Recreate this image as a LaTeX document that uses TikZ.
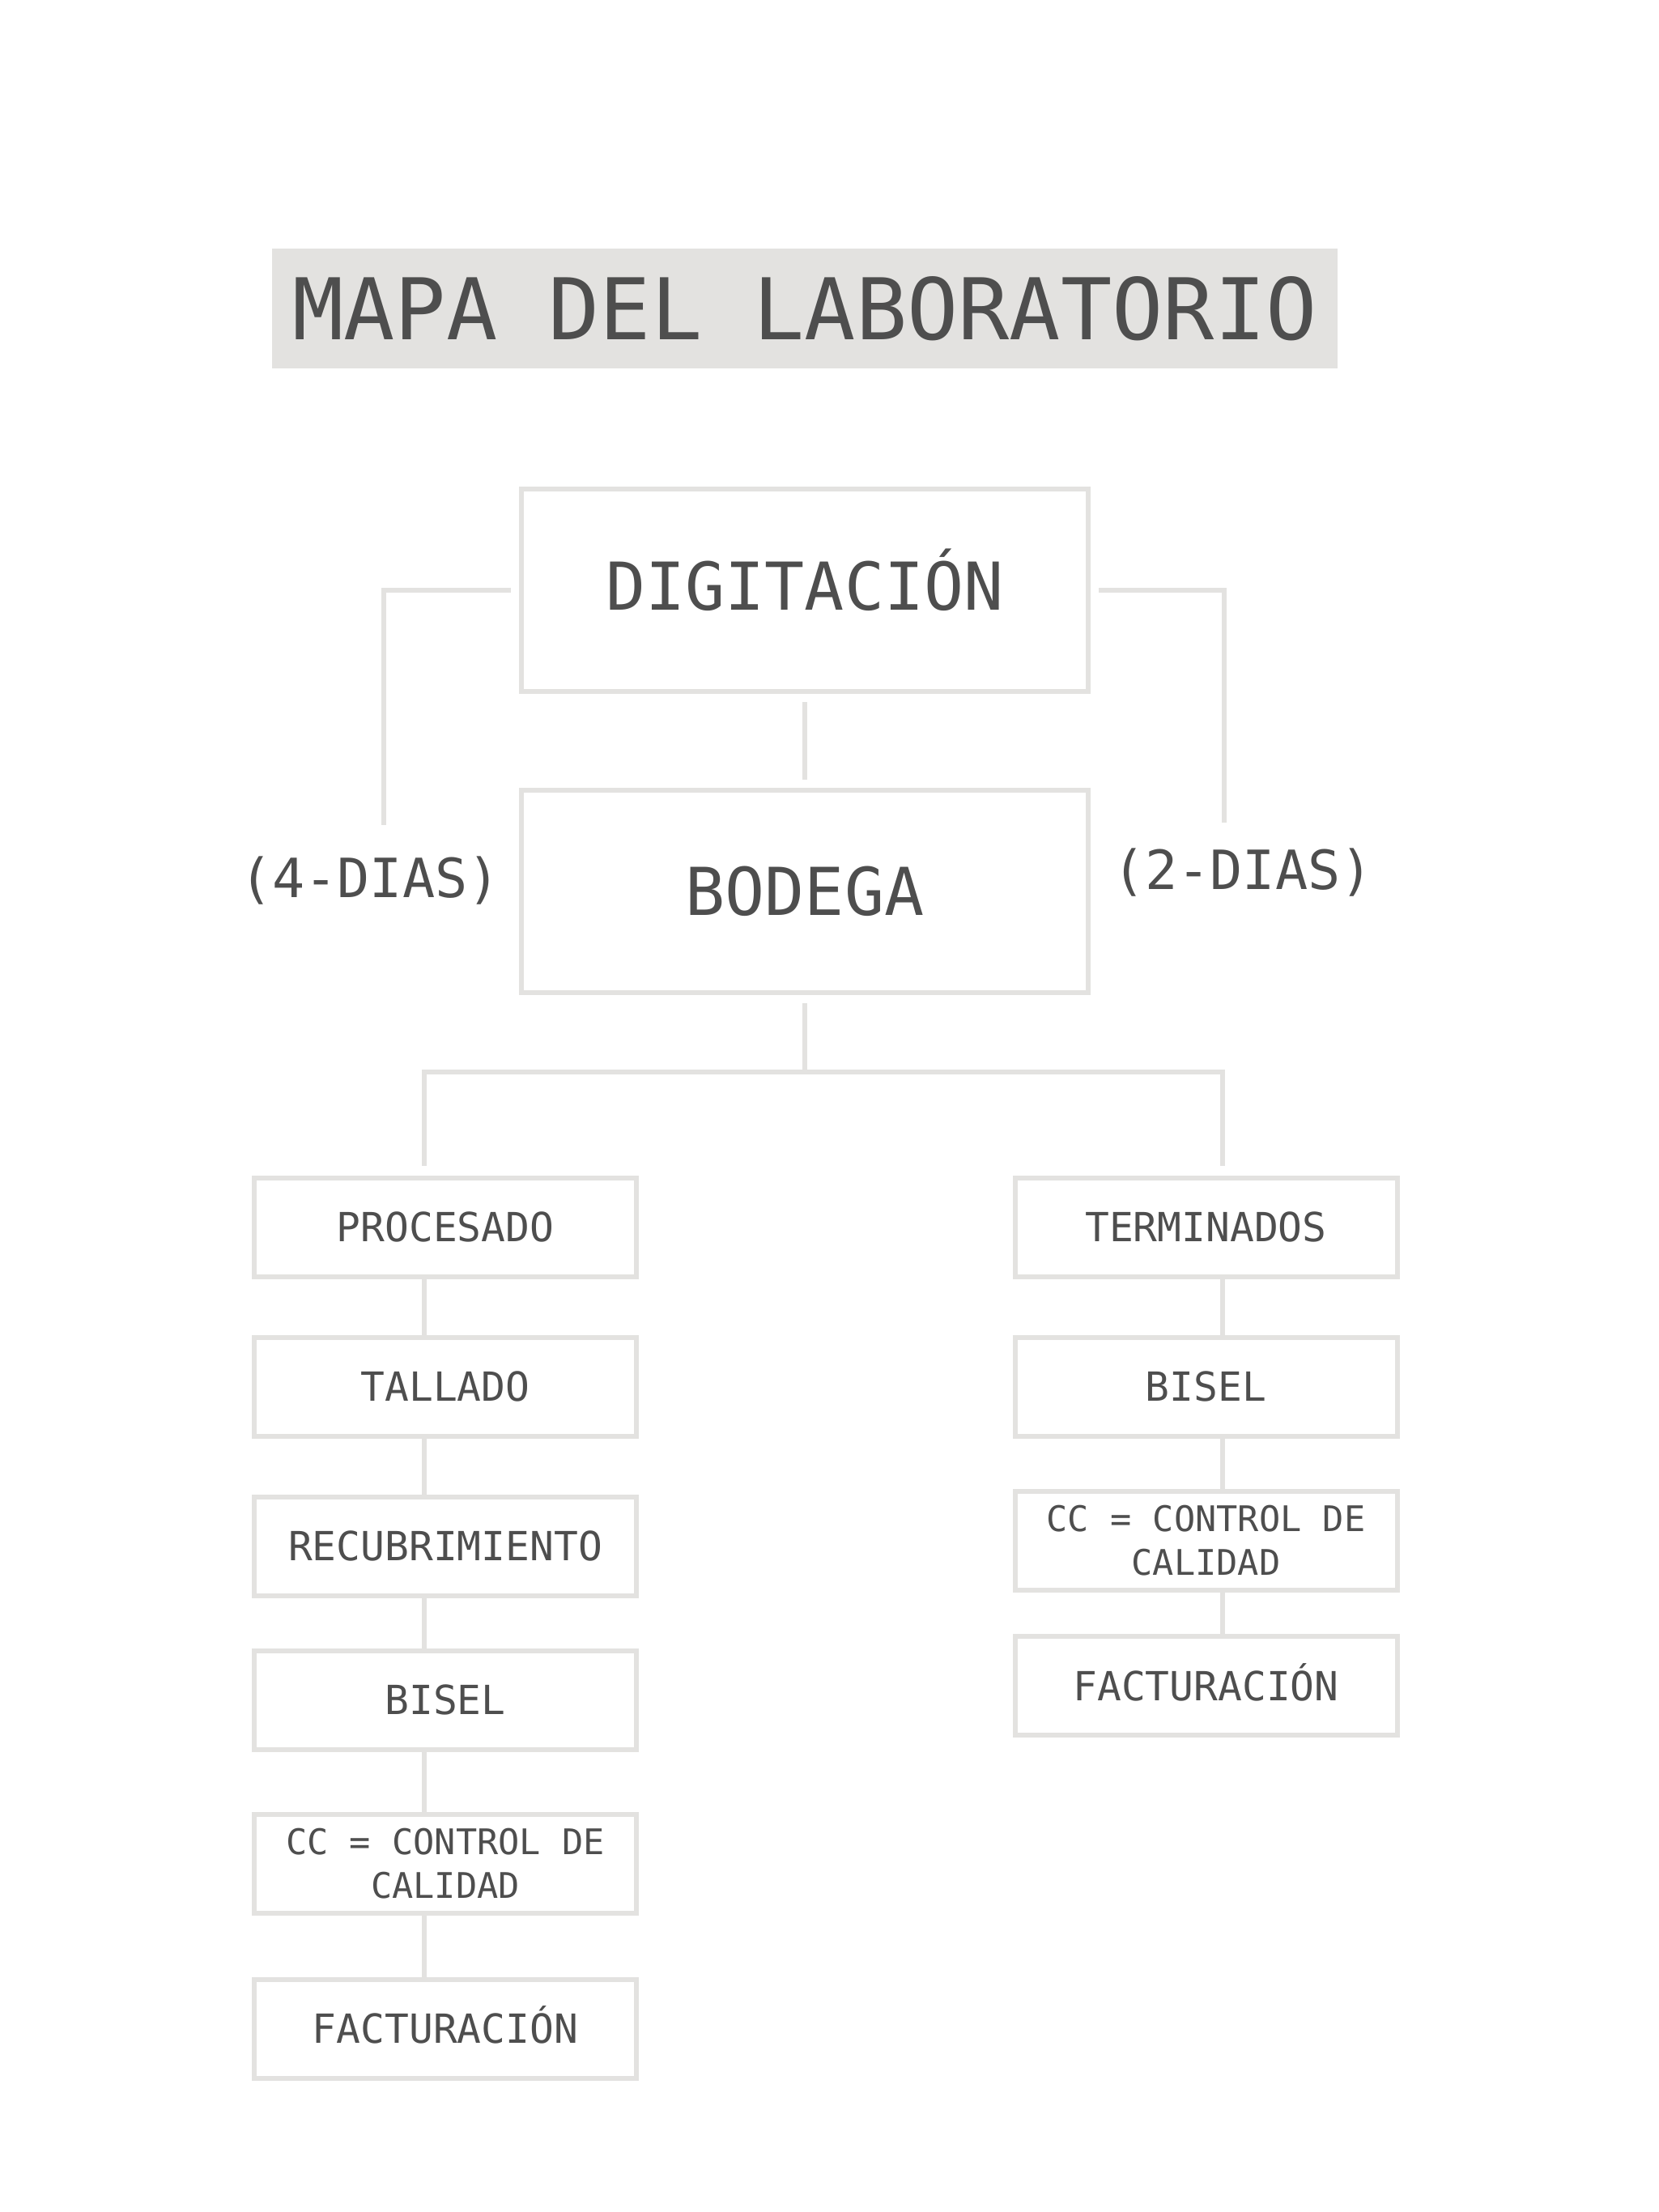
\documentclass[tikz,border=0pt]{standalone}
\usepackage{fontspec}
\setmonofont{DejaVu Sans Mono}
\usepackage{xcolor}
\usetikzlibrary{positioning}
\definecolor{boxgray}{RGB}{227,226,224}
\definecolor{inkgray}{RGB}{78,78,78}

\tikzset{
  frame/.style={draw=boxgray, line width=0.06cm, text=inkgray},
  bigbox/.style={frame, minimum width=7.0cm, minimum height=2.5cm, text height=16.9pt, text depth=0pt, font=\ttfamily\fontsize{23.2}{28}\selectfont},
  stagebox/.style={frame, minimum width=4.72cm, minimum height=1.22cm, text height=10.3pt, text depth=0pt, font=\ttfamily\fontsize{14.1}{17}\selectfont},
  twoline/.style={frame, minimum width=4.72cm, minimum height=1.22cm, align=center, font=\ttfamily\fontsize{12.4}{15.4}\selectfont},
  daynote/.style={text=inkgray, text height=13.9pt, text depth=0pt, font=\ttfamily\fontsize{19}{23}\selectfont},
  link/.style={draw=boxgray, line width=0.06cm}
}

\begin{document}
\begin{tikzpicture}[node distance=1.97cm,on grid]
        \useasboundingbox (0,0) rectangle (20.48,-27.32);
        \node[fill=boxgray, minimum width=13.16cm, minimum height=1.48cm, text=inkgray, text height=21.8pt, text depth=0pt, font=\ttfamily\fontsize{29.9}{36}\selectfont] (title) at (9.94,-3.81) {MAPA DEL LABORATORIO};
        \node[bigbox] (dig) [below=3.48cm of title, text depth=0.1cm] {DIGITACIÓN};
        \node[bigbox] (bod) [below=3.72cm of dig] {BODEGA};
        \node[daynote] (dias4) [left=5.37cm of bod, yshift=0.17cm] {(4-DIAS)};
        \node[daynote] (dias2) [right=5.41cm of bod, yshift=0.27cm] {(2-DIAS)};
        % left column
        \node[stagebox] (proc) [below left=4.145cm and 4.44cm of bod] {PROCESADO};
        \node[stagebox] (tall) [below=of proc] {TALLADO};
        \node[stagebox] (recub) [below=of tall] {RECUBRIMIENTO};
        \node[stagebox] (bisl) [below=1.90cm of recub] {BISEL};
        \node[twoline] (ccl) [below=2.02cm of bisl] {CC = CONTROL DE\\CALIDAD};
        \node[stagebox] (factl) [below=2.04cm of ccl] {FACTURACIÓN};
        % right column
        \node[stagebox] (term) [below right=4.145cm and 4.955cm of bod] {TERMINADOS};
        \node[stagebox] (bisr) [below=of term] {BISEL};
        \node[twoline] (ccr) [below=1.90cm of bisr] {CC = CONTROL DE\\CALIDAD};
        \node[stagebox] (factr) [below=1.795cm of ccr] {FACTURACIÓN};
        % free ends
        \coordinate (lbend) at ([xshift=0.17cm, yshift=0.65cm]dias4.center);
        \coordinate (rbend) at ([xshift=-0.23cm, yshift=0.58cm]dias2.center);
        \coordinate (split) at ([yshift=-0.95cm]bod.south);
        \coordinate (ltop) at ([xshift=-0.26cm]proc.north);
        \coordinate (rtop) at ([xshift=0.205cm]term.north);
        \draw[link, shorten <=0.1cm, shorten >=0.1cm] (dig) to (bod);
        \draw[link, shorten <=0.1cm] (dig.west) -| (lbend);
        \draw[link, shorten <=0.1cm] (dig.east) -| (rbend);
        \draw[link, shorten <=0.1cm] (bod.south) to (split);
        \draw[link, shorten <=0.12cm, shorten >=0.12cm] (ltop) |- (split) -| (rtop);
        \draw[link] ([xshift=-0.26cm]proc.south) to ([xshift=-0.26cm]tall.north);
        \draw[link] ([xshift=-0.26cm]tall.south) to ([xshift=-0.26cm]recub.north);
        \draw[link] ([xshift=-0.26cm]recub.south) to ([xshift=-0.26cm]bisl.north);
        \draw[link] ([xshift=-0.26cm]bisl.south) to ([xshift=-0.26cm]ccl.north);
        \draw[link] ([xshift=-0.26cm]ccl.south) to ([xshift=-0.26cm]factl.north);
        \draw[link] ([xshift=0.205cm]term.south) to ([xshift=0.205cm]bisr.north);
        \draw[link] ([xshift=0.205cm]bisr.south) to ([xshift=0.205cm]ccr.north);
        \draw[link] ([xshift=0.205cm]ccr.south) to ([xshift=0.205cm]factr.north);
      \end{tikzpicture}
\end{document}
